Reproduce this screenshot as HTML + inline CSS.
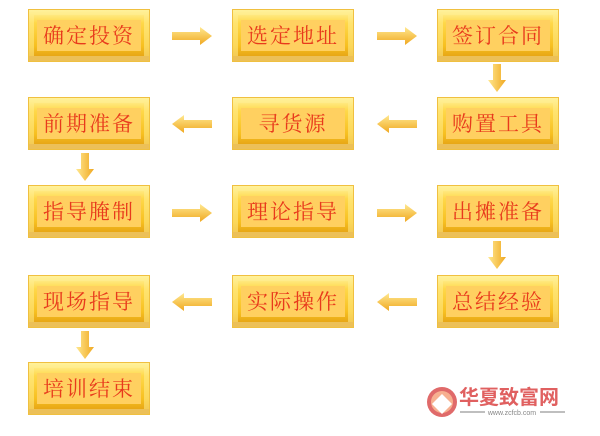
<!DOCTYPE html>
<html><head><meta charset="utf-8"><style>
body{margin:0;width:600px;height:436px;background:#fff;position:relative;overflow:hidden;font-family:"Liberation Serif","Noto Serif CJK SC",serif}
.b{position:absolute;width:122px;height:53px;box-sizing:border-box;background:linear-gradient(180deg,#fff3a0 0%,#ffd84a 25%,#f7c020 70%,#e09a10 100%);border:1px solid #f0c040;box-shadow:inset 0 0 0 5px rgba(255,240,150,.5),inset 0 -5px 0 #d8901a;}
.b span{position:absolute;left:8px;right:8px;top:10px;bottom:10px;background:#ffd060;color:#e83a1c;font-size:21px;letter-spacing:2px;text-align:center;line-height:33px}
.h{position:absolute;width:42px;height:16px}
.v{position:absolute;width:18px;height:28px}
</style></head><body>
<div class="b" style="left:28px;top:9px"><span>确定投资</span></div>
<div class="b" style="left:232px;top:9px"><span>选定地址</span></div>
<div class="b" style="left:437px;top:9px"><span>签订合同</span></div>
<div class="b" style="left:28px;top:97px"><span>前期准备</span></div>
<div class="b" style="left:232px;top:97px"><span>寻货源</span></div>
<div class="b" style="left:437px;top:97px"><span>购置工具</span></div>
<div class="b" style="left:28px;top:185px"><span>指导腌制</span></div>
<div class="b" style="left:232px;top:185px"><span>理论指导</span></div>
<div class="b" style="left:437px;top:185px"><span>出摊准备</span></div>
<div class="b" style="left:28px;top:275px"><span>现场指导</span></div>
<div class="b" style="left:232px;top:275px"><span>实际操作</span></div>
<div class="b" style="left:437px;top:275px"><span>总结经验</span></div>
<div class="b" style="left:28px;top:362px"><span>培训结束</span></div>

<svg width="600" height="436" style="position:absolute;left:0;top:0">
<defs><linearGradient id="g" x1="0" y1="0" x2="0" y2="1"><stop offset="0" stop-color="#ffe890"/><stop offset="1" stop-color="#f0a820"/></linearGradient>
<linearGradient id="g2" x1="0" y1="0" x2="1" y2="0"><stop offset="0" stop-color="#ffe890"/><stop offset="1" stop-color="#f0a820"/></linearGradient>
<g id="r"><polygon points="0,-4 28,-4 28,-9 40,0 28,9 28,4 0,4" fill="url(#g)"/></g>
<g id="d"><polygon points="-4,0 4,0 4,16 9,16 0,28 -9,16 -4,16" fill="url(#g2)"/></g></defs>
<use href="#r" x="172" y="36"/><use href="#r" x="377" y="36"/>
<use href="#r" x="172" y="213"/><use href="#r" x="377" y="213"/>
<use href="#r" transform="translate(212,124) scale(-1,1)"/><use href="#r" transform="translate(417,124) scale(-1,1)"/>
<use href="#r" transform="translate(212,302) scale(-1,1)"/><use href="#r" transform="translate(417,302) scale(-1,1)"/>
<use href="#d" x="497" y="64"/><use href="#d" x="85" y="153"/>
<use href="#d" x="497" y="241"/><use href="#d" x="85" y="331"/>
<circle cx="442" cy="402" r="15" fill="#e06a6a"/><circle cx="442" cy="402" r="11" fill="#f7b090"/>
<polygon points="432,404 442,394 452,404 442,414" fill="#fff"/>
<line x1="460" y1="412" x2="485" y2="412" stroke="#aaa" stroke-width="1.5"/>
<line x1="540" y1="412" x2="565" y2="412" stroke="#aaa" stroke-width="1.5"/>
<text x="512" y="415" font-size="7" fill="#888" text-anchor="middle" font-family="Liberation Sans">www.zcfcb.com</text>
<text x="459" y="404" font-size="20" fill="#e06060" font-family="Liberation Sans,'Noto Sans CJK SC',sans-serif" font-weight="bold">华夏致富网</text>
</svg>
</body></html>
